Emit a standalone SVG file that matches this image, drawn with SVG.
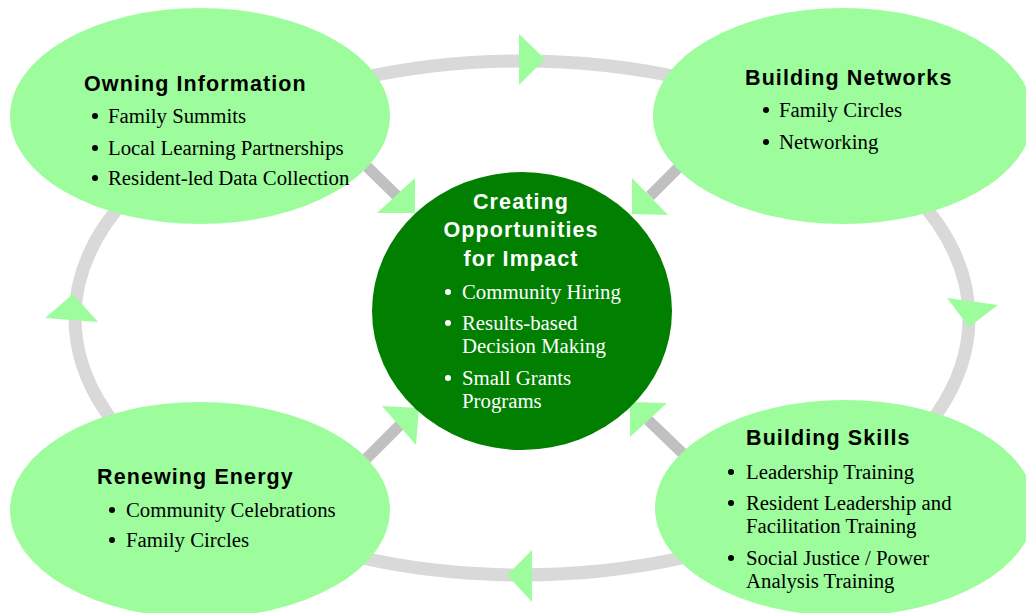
<svg xmlns="http://www.w3.org/2000/svg" width="1026" height="613" viewBox="0 0 1026 613">
<style>
.loop{fill:none;stroke:#d9d9d9;stroke-width:13}
.diag{stroke:#c0c0c0;stroke-width:11;stroke-linecap:butt}
.outer{fill:#9dfd9d}
.head{fill:#9dfd9d}
.hub{fill:#007f00}
.title{font-family:"Liberation Sans",Arial,sans-serif;font-weight:bold;font-size:21.5px;letter-spacing:1.1px;fill:#000}
.item{font-family:"Liberation Serif","Times New Roman",serif;font-size:20.8px;fill:#000}
.dot{fill:#000}
.w{fill:#fff}
</style>
<rect width="1026" height="613" fill="#fff"/>
<g id="connectors">
<ellipse class="loop" cx="522" cy="318" rx="447" ry="257"/>
<line class="diag" x1="350" y1="150" x2="398" y2="197"/>
<line class="diag" x1="700" y1="146" x2="650" y2="196"/>
<line class="diag" x1="350" y1="475" x2="400" y2="425"/>
<line class="diag" x1="700" y1="470" x2="648" y2="420"/>
</g>
<g id="owning-information">
<ellipse class="outer" cx="200" cy="116" rx="190" ry="108"/>
<text class="title" x="84" y="91">Owning Information</text>
<circle class="dot" cx="95" cy="116" r="3"/>
<text class="item" x="108" y="123">Family Summits</text>
<circle class="dot" cx="95" cy="148" r="3"/>
<text class="item" x="108" y="155">Local Learning Partnerships</text>
<circle class="dot" cx="95" cy="178" r="3"/>
<text class="item" x="108" y="185">Resident-led Data Collection</text>
</g>
<g id="building-networks">
<ellipse class="outer" cx="843" cy="116" rx="190" ry="108"/>
<text class="title" x="745" y="85">Building Networks</text>
<circle class="dot" cx="766" cy="110" r="3"/>
<text class="item" x="779" y="117">Family Circles</text>
<circle class="dot" cx="766" cy="142" r="3"/>
<text class="item" x="779" y="149">Networking</text>
</g>
<g id="renewing-energy">
<ellipse class="outer" cx="200" cy="510" rx="190" ry="108"/>
<text class="title" x="97" y="484">Renewing Energy</text>
<circle class="dot" cx="112" cy="510" r="3"/>
<text class="item" x="126" y="517">Community Celebrations</text>
<circle class="dot" cx="112" cy="540" r="3"/>
<text class="item" x="126" y="547">Family Circles</text>
</g>
<g id="building-skills">
<ellipse class="outer" cx="845" cy="508" rx="190" ry="108"/>
<text class="title" x="746" y="445">Building Skills</text>
<circle class="dot" cx="731" cy="472" r="3"/>
<text class="item" x="746" y="479">Leadership Training</text>
<circle class="dot" cx="731" cy="503" r="3"/>
<text class="item" x="746" y="510">Resident Leadership and</text>
<text class="item" x="746" y="533">Facilitation Training</text>
<circle class="dot" cx="731" cy="558" r="3"/>
<text class="item" x="746" y="565">Social Justice / Power</text>
<text class="item" x="746" y="588">Analysis Training</text>
</g>
<g id="arrowheads">
<polygon class="head" points="519,34 519,85 545,59"/>
<polygon class="head" points="45,318 98,322 73,294"/>
<polygon class="head" points="947,298 998,305 969,327"/>
<polygon class="head" points="532,550 532,602 507,575"/>
<polygon class="head" points="415,178 377,213 415,213"/>
<polygon class="head" points="632,178 668,215 632,214"/>
<polygon class="head" points="382,406 419,408 416,445"/>
<polygon class="head" points="667,403 630,402 630,437"/>
</g>
<g id="creating-opportunities">
<ellipse class="hub" cx="522" cy="311" rx="150" ry="139"/>
<text class="title w" x="521" y="209" text-anchor="middle">Creating</text>
<text class="title w" x="521" y="237" text-anchor="middle">Opportunities</text>
<text class="title w" x="521" y="266" text-anchor="middle">for Impact</text>
<circle class="w" cx="448" cy="292" r="3"/>
<text class="item w" x="462" y="299">Community Hiring</text>
<circle class="w" cx="448" cy="323" r="3"/>
<text class="item w" x="462" y="330">Results-based</text>
<text class="item w" x="462" y="353">Decision Making</text>
<circle class="w" cx="448" cy="378" r="3"/>
<text class="item w" x="462" y="385">Small Grants</text>
<text class="item w" x="462" y="408">Programs</text>
</g>
</svg>
